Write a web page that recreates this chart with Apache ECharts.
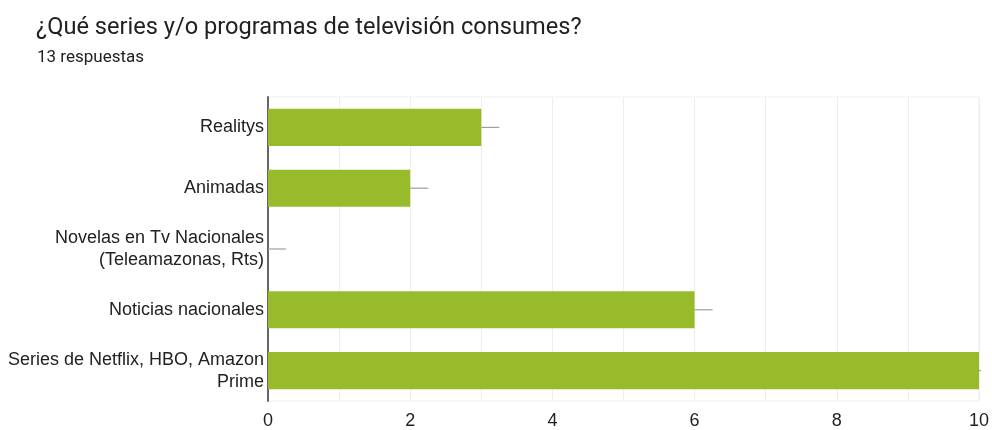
<!DOCTYPE html>
<html>
<head>
<meta charset="utf-8">
<script src="https://cdn.jsdelivr.net/npm/echarts@6/dist/echarts.min.js"></script>
<style>
  html, body { margin: 0; padding: 0; background: #fff; }
  #chart { width: 992px; height: 430px; }
</style>
</head>
<body>
<div id="chart"></div>
<script>
// Survey answers: how many respondents chose each kind of TV content
const categories = [
  'Realitys',
  'Animadas',
  'Novelas en Tv Nacionales\n(Teleamazonas, Rts)',
  'Noticias nacionales',
  'Series de Netflix, HBO, Amazon\nPrime'
];
const counts = [3, 2, 0, 6, 10];
const xTickLabels = [0, 2, 4, 6, 8, 10];

const chart = echarts.init(document.getElementById('chart'));
const GRID = { left: 268, right: 12, top: 97, bottom: 27 };

chart.setOption({
  animation: false,
  title: [
    {
      text: '¿Qué series y/o programas de televisión consumes?',
      left: 31, top: 11,
      textStyle: { fontFamily: 'Roboto', fontSize: 23.6, fontWeight: 'normal', color: '#202124' }
    },
    {
      text: '13 respuestas',
      left: 32, top: 44,
      textStyle: { fontFamily: 'Roboto', fontSize: 17, fontWeight: 'normal', color: '#202124' }
    }
  ],
  grid: Object.assign({ show: true, borderColor: '#eeeeee', borderWidth: 1 }, GRID),
  xAxis: {
    type: 'value',
    min: 0, max: 10, interval: 1,
    axisLine: { show: false },
    axisTick: { show: false },
    splitLine: { show: true, lineStyle: { color: '#eeeeee', width: 1 } },
    axisLabel: {
      margin: 11,
      fontFamily: 'Liberation Sans, Arial',
      fontSize: 18,
      color: '#222',
      formatter: v => xTickLabels.includes(v) ? String(v) : ''
    }
  },
  yAxis: {
    type: 'category',
    data: categories,
    inverse: true,
    axisLine: { show: true, lineStyle: { color: '#666', width: 2 } },
    axisTick: { show: false },
    axisLabel: {
      margin: 4,
      fontFamily: 'Liberation Sans, Arial',
      fontSize: 18,
      lineHeight: 22,
      color: '#222',
      align: 'right'
    }
  },
  series: [
    {
      type: 'bar',
      data: counts,
      barWidth: '61%',
      itemStyle: { color: '#97bb2b' },
      z: 2
    },
    {
      // short gray leader line at the end of every bar, cut at the plot edge
      type: 'custom',
      data: counts.map((v, i) => [v, i]),
      renderItem: (params, api) => {
        const p = api.coord([api.value(0), api.value(1)]);
        const edge = params.coordSys.x + params.coordSys.width + 2;
        return {
          type: 'line',
          shape: { x1: p[0], y1: p[1], x2: Math.min(p[0] + 18, edge), y2: p[1] },
          style: { stroke: '#9e9e9e', lineWidth: 1.2 }
        };
      },
      clip: false,
      z: 1,
      silent: true
    }
  ]
});
</script>
</body>
</html>
